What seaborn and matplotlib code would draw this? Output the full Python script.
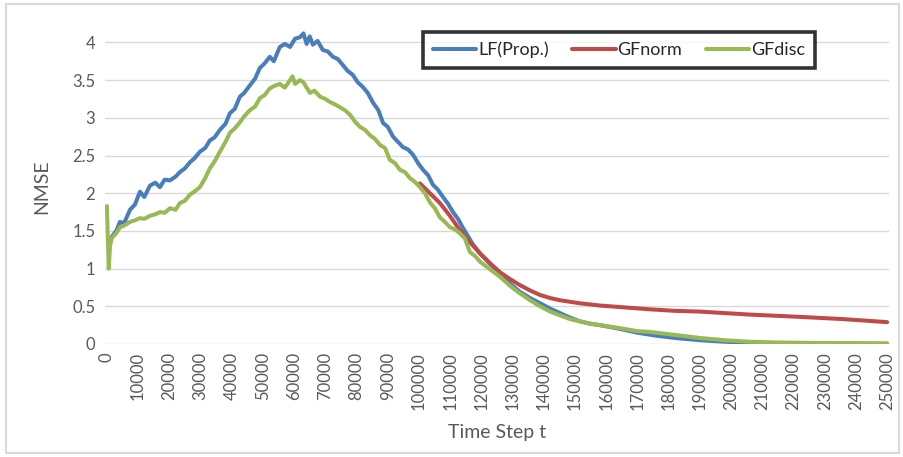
import numpy as np
import pandas as pd
import matplotlib
matplotlib.use("Agg")
import matplotlib.pyplot as plt
import matplotlib.patches as mpatches
import seaborn as sns

# ---------------------------------------------------------------------------
# Data (time step, NMSE)
# ---------------------------------------------------------------------------

LF_T = [800, 1500, 3000, 4200, 5500, 7400, 9000, 10600, 12000, 13800, 15500, 17000,
        18500, 20200, 22000, 23400, 25000, 26600, 28000, 29800, 31500, 33000, 34500,
        36200, 38000, 39400, 41000, 42600, 44000, 45800, 47500, 49000, 50500, 52200,
        53500, 55400, 57000, 58700, 60300, 61900, 63000, 64000, 65000, 66000, 67500,
        69200, 70800, 72400, 74000, 75600, 77200, 78800, 80400, 82000, 83600, 85300,
        87000, 88500, 90000, 91700, 93300, 94900, 96500, 98100, 99700, 101300, 102900,
        104500, 106000, 107700, 109300, 110900, 112500, 114100, 115700, 117300, 119600,
        122800, 126000, 129200, 132400, 135600, 138800, 142000, 145200, 148400, 151600,
        154800, 158000, 164400, 170000, 176000, 182000, 190000, 198000, 206000, 215000,
        225000, 235000, 250000]
LF_Y = [1.30, 1.42, 1.50, 1.62, 1.60, 1.78, 1.85, 2.02, 1.95, 2.10, 2.14, 2.08,
        2.18, 2.17, 2.22, 2.28, 2.33, 2.41, 2.46, 2.55, 2.60, 2.70, 2.74,
        2.84, 2.92, 3.06, 3.12, 3.28, 3.33, 3.43, 3.52, 3.66, 3.72, 3.81,
        3.75, 3.94, 3.98, 3.94, 4.05, 4.07, 4.12, 3.98, 4.08, 3.97, 4.02,
        3.90, 3.88, 3.81, 3.78, 3.70, 3.62, 3.57, 3.47, 3.41, 3.33, 3.20,
        3.10, 2.93, 2.88, 2.75, 2.68, 2.61, 2.58, 2.51, 2.40, 2.31, 2.24,
        2.11, 2.05, 1.95, 1.86, 1.75, 1.66, 1.54, 1.43, 1.32, 1.20,
        1.06, 0.94, 0.80, 0.69, 0.61, 0.54, 0.47, 0.41, 0.35, 0.30,
        0.27, 0.25, 0.20, 0.15, 0.11, 0.08, 0.05, 0.03, 0.015, 0.01,
        0.005, 0.003, 0.0]

GFNORM_T = [100300, 103500, 106700, 109900, 113100, 116300, 119600, 122800, 126000,
            129200, 132400, 135600, 138800, 142000, 145200, 151600, 158000, 164400,
            174000, 182000, 190000, 206000, 222000, 236000, 250000]
GFNORM_Y = [2.13, 2.00, 1.87, 1.70, 1.51, 1.35, 1.20, 1.07, 0.95,
            0.86, 0.78, 0.71, 0.65, 0.61, 0.58, 0.54, 0.51, 0.49,
            0.46, 0.44, 0.43, 0.39, 0.36, 0.33, 0.29]

GFDISC_T = [0, 600, 1000, 1500, 3000, 4200, 5500, 7400, 9000, 10600, 12000, 13800,
            15500, 17000, 18500, 20200, 22000, 23400, 25000, 26600, 28000, 29800,
            31500, 33000, 34500, 36200, 38000, 39400, 41000, 42600, 44000, 45800,
            47500, 49000, 50500, 52200, 53500, 55400, 57000, 58700, 59500, 60300,
            61900, 63000, 64000, 65100, 66500, 68300, 70000, 71500, 73000, 74700,
            76300, 77900, 79500, 81100, 82700, 84300, 85900, 87500, 89100, 90700,
            92300, 93900, 95500, 97100, 98700, 100300, 101900, 103500, 105100, 106700,
            108300, 109900, 111500, 113100, 114700, 116300, 117900, 119600, 122800,
            126000, 129200, 132400, 135600, 138800, 142000, 145200, 148400, 151600,
            154800, 158000, 164400, 170000, 174000, 182000, 190000, 198000, 206000,
            215000, 225000, 235000, 250000]
GFDISC_Y = [1.83, 1.00, 1.30, 1.40, 1.47, 1.55, 1.57, 1.62, 1.64, 1.67, 1.66, 1.70,
            1.72, 1.75, 1.74, 1.80, 1.78, 1.87, 1.90, 1.98, 2.02, 2.08,
            2.20, 2.33, 2.42, 2.55, 2.68, 2.80, 2.86, 2.94, 3.02, 3.10,
            3.15, 3.26, 3.30, 3.39, 3.42, 3.45, 3.40, 3.50, 3.55, 3.45,
            3.50, 3.47, 3.40, 3.33, 3.36, 3.28, 3.25, 3.21, 3.18, 3.14,
            3.10, 3.04, 2.95, 2.88, 2.84, 2.77, 2.72, 2.64, 2.60, 2.44,
            2.40, 2.31, 2.28, 2.20, 2.15, 2.08, 2.00, 1.88, 1.80, 1.68,
            1.62, 1.55, 1.52, 1.47, 1.40, 1.22, 1.17, 1.09, 0.99,
            0.89, 0.77, 0.67, 0.58, 0.50, 0.43, 0.38, 0.33, 0.30,
            0.27, 0.25, 0.21, 0.17, 0.16, 0.12, 0.08, 0.05, 0.03,
            0.02, 0.015, 0.012, 0.01]

SERIES = ["LF(Prop.)", "GFnorm", "GFdisc"]
COLORS = ["#4A7EBB", "#BE4B48", "#98B954"]
X_TICKS = list(range(0, 250001, 10000))
Y_TICKS = [0, 0.5, 1, 1.5, 2, 2.5, 3, 3.5, 4]

# ---------------------------------------------------------------------------
# Build long table
# ---------------------------------------------------------------------------

df = pd.concat([
    pd.DataFrame({"t": LF_T, "NMSE": LF_Y, "series": SERIES[0]}),
    pd.DataFrame({"t": GFNORM_T, "NMSE": GFNORM_Y, "series": SERIES[1]}),
    pd.DataFrame({"t": GFDISC_T, "NMSE": GFDISC_Y, "series": SERIES[2]}),
], ignore_index=True)

sns.set_style("white")
plt.rcParams["font.family"] = ["Lato", "DejaVu Sans"]

W, H = 904, 457
fig = plt.figure(figsize=(W / 100, H / 100), dpi=100)
ax = fig.add_axes([105 / W, 1 - 344 / H, 784 / W, 314 / H])

sns.lineplot(data=df, x="t", y="NMSE", hue="series", hue_order=SERIES,
             palette=COLORS, estimator=None, sort=False, linewidth=2.9,
             ax=ax, legend=False)

ax.set_xlim(-600, 250600)
ax.set_ylim(0, 4.165)
ax.set_yticks(Y_TICKS)
ax.set_yticklabels(["0", "0.5", "1", "1.5", "2", "2.5", "3", "3.5", "4"])
ax.set_xticks(X_TICKS)
ax.set_xticklabels([str(v) for v in X_TICKS], rotation=90)
ax.tick_params(axis="both", length=0, colors="#595959", labelsize=12)
ax.tick_params(axis="x", pad=6)
ax.tick_params(axis="y", pad=7)
ax.grid(axis="y", color="#D9D9D9", linewidth=1)
ax.set_axisbelow(True)
for s in ax.spines.values():
    s.set_visible(False)

ax.set_xlabel("Time Step t", fontsize=14, color="#595959", labelpad=10)
ax.set_ylabel("NMSE", fontsize=14, color="#595959", labelpad=16)

handles = [plt.Line2D([], [], color=c, linewidth=2.9) for c in COLORS]
leg = fig.legend(handles, SERIES, loc="center", bbox_to_anchor=(619 / W, 1 - 50 / H),
                 ncol=3, frameon=True, fancybox=False, fontsize=13,
                 handlelength=2.4, handletextpad=0.1, columnspacing=1.3,
                 borderpad=0.55, borderaxespad=0)
leg.get_frame().set_edgecolor("black")
leg.get_frame().set_linewidth(2.6)
for txt in leg.get_texts():
    txt.set_color("#262626")

# outer chart border
fig.patches.append(mpatches.Rectangle((6 / W, 4 / H), 893 / W, 449 / H,
                                      transform=fig.transFigure, fill=False,
                                      edgecolor="#D9D9D9", linewidth=1.5))

fig.savefig("out.png", dpi=100)
